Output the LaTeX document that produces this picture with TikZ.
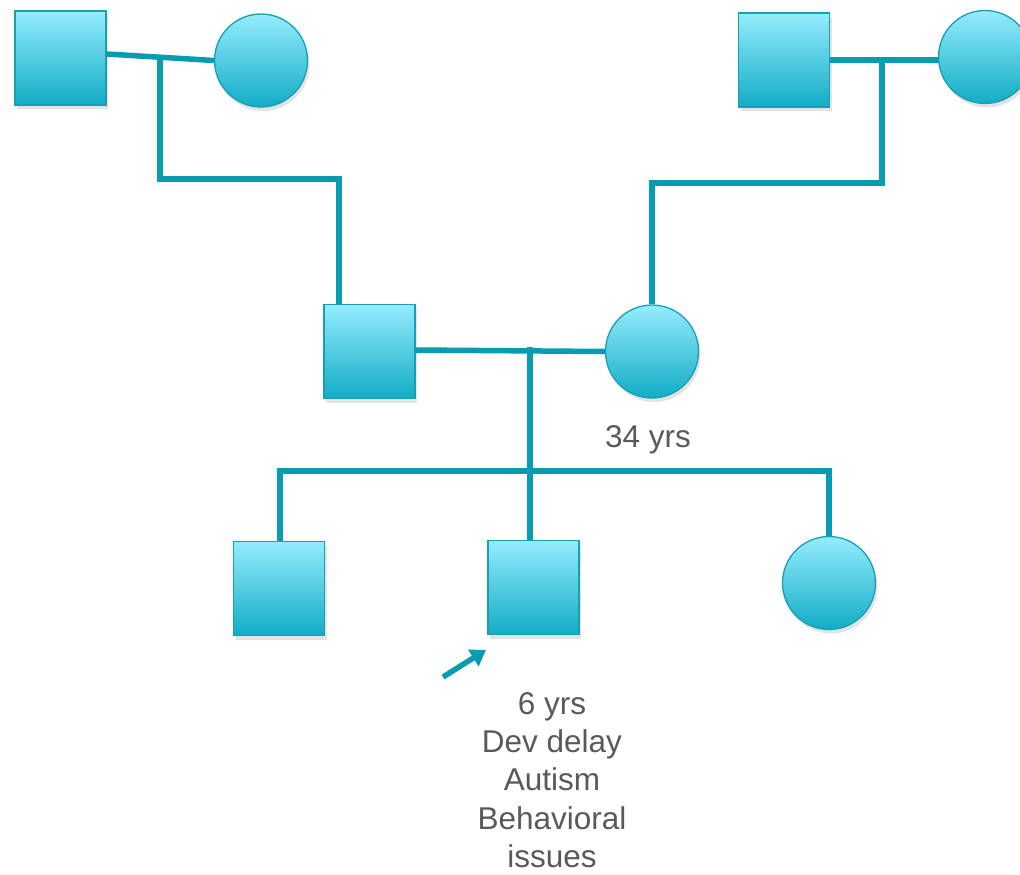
\documentclass[tikz,border=0pt]{standalone}
\usepackage{fontspec}
\setmainfont{Liberation Sans}
\usetikzlibrary{shadows,arrows.meta}
\definecolor{linec}{RGB}{8,156,176}
\definecolor{topc}{RGB}{148,236,252}
\definecolor{botc}{RGB}{18,172,198}
\definecolor{edgec}{RGB}{22,160,178}
\definecolor{txtc}{RGB}{89,89,89}
\tikzset{
  person/.style={draw=edgec, line width=1.3pt, top color=topc, bottom color=botc, inner sep=0pt,
    drop shadow={opacity=0.22, shadow xshift=2pt, shadow yshift=-4pt}},
  male/.style={person, rectangle, minimum width=91pt, minimum height=94pt},
  female/.style={person, circle, minimum size=93pt},
  link/.style={draw=linec, line width=5.5pt},
  lbl/.style={text=txtc, font=\fontsize{31.5}{38.3}\selectfont, align=center, inner sep=0pt},
}
\begin{document}
\begin{tikzpicture}[x=1pt,y=-1pt]
\useasboundingbox (0,0) rectangle (1020,875);
% junction coordinates
\coordinate (m1) at (160,57);
\coordinate (lc1) at (160,179);
\coordinate (lc2) at (339,179);
\coordinate (m2) at (882,62);
\coordinate (rc1) at (882,183);
\coordinate (rc2) at (652,183);
\coordinate (m3) at (530,350);
\coordinate (s0) at (530,471);
\coordinate (sl) at (280,471);
\coordinate (sr) at (829,471);
% people
\node[male] (gfL) at (60.5,58) {};
\node[female] (gmL) at (261,60.5) {};
\node[male] (gfR) at (784,60) {};
\node[female] (gmR) at (985,57) {};
\node[male] (fa) at (369.5,351.5) {};
\node[female] (mo) at (652,351.5) {};
\node[male] (c1) at (279,588.5) {};
\node[male] (c2) at (533.5,587.5) {};
\node[female] (c3) at (829,583) {};
% connectors
\draw[link] ([yshift=4pt]gfL.east) -- (gmL.west);
\draw[link] (m1) -- (lc1) -- (lc2) -- (lc2 |- fa.north);
\draw[link] (gfR.east) -- ([yshift=-3pt]gmR.west);
\draw[link] (m2) -- (rc1) -- (rc2) -- (mo.north);
\draw[link] (fa.east |- m3) -- (mo.west);
\draw[link] ([yshift=3pt]m3) -- (s0);
\draw[link] (sl |- c1.north) -- (sl) -- (sr) -- (c3.north);
\draw[link] (s0) -- (s0 |- c2.north);
% proband arrow
\coordinate (a0) at (443,677);
\coordinate (a1) at (486,650);
\draw[linec, line width=5.5pt, -{Triangle[length=15pt,width=19pt]}] (a0) -- (a1);
% labels
\node[lbl] (age) at (648,440) {34 yrs};
\node[lbl] (desc) at (552,780) {6 yrs\\Dev delay\\Autism\\Behavioral\\issues};
\end{tikzpicture}
\end{document}
